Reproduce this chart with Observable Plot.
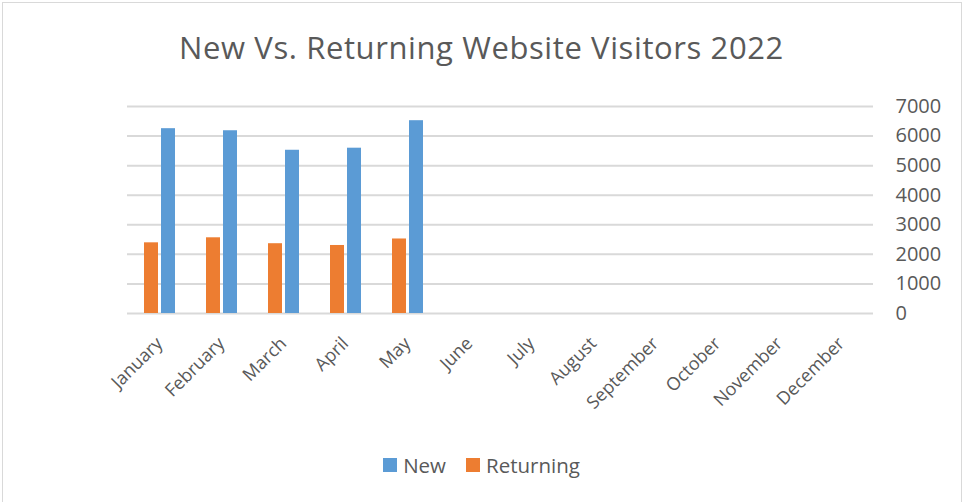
<!DOCTYPE html>
<html>
<head>
<meta charset="utf-8">
<script src="https://cdn.jsdelivr.net/npm/d3@7"></script>
<script src="https://cdn.jsdelivr.net/npm/@observablehq/plot@0.6"></script>
<style>
  html, body { margin: 0; padding: 0; background: #fff; }
  #wrap { position: relative; width: 963px; height: 502px; overflow: hidden; font-family: "Open Sans", sans-serif; color: #595959; }
  #border { position: absolute; left: 2px; top: 2px; width: 958px; height: 510px; border: 1px solid #d9d9d9; }
  #title { position: absolute; left: 0; right: 0; top: 27px; text-align: center; font-size: 31px; letter-spacing: 0.6px; line-height: 40px; }
  #legend { position: absolute; left: 0; right: 0; top: 450px; text-align: center; font-size: 20.5px; line-height: 28px; }
  #legend span.item { display: inline-flex; align-items: center; margin: 0 10px; }
  #legend span.sw { display: inline-block; width: 14px; height: 14px; margin-right: 6px; }
  #chart { position: absolute; left: 0; top: 0; }
</style>
</head>
<body>
<div id="wrap">
  <div id="border"></div>
  <div id="chart"></div>
  <div id="title">New Vs. Returning Website Visitors 2022</div>
  <div id="legend"></div>
</div>
<script>
const months = ["January","February","March","April","May","June","July","August","September","October","November","December"];
const dataMonths = ["January","February","March","April","May"];
const newVisitors = [6250, 6180, 5520, 5590, 6520];
const returningVisitors = [2390, 2560, 2360, 2300, 2520];
const yTicks = [0, 1000, 2000, 3000, 4000, 5000, 6000, 7000];
const seriesNames = ["New", "Returning"];
const seriesColors = ["#5B9BD5", "#ED7D31"];

const newData = dataMonths.map((m, i) => ({month: m, value: newVisitors[i]}));
const retData = dataMonths.map((m, i) => ({month: m, value: returningVisitors[i]}));

const textColor = "#595959";
const chart = Plot.plot({
  width: 963,
  height: 502,
  marginTop: 106,
  marginBottom: 189,
  marginLeft: 127,
  marginRight: 90,
  style: {fontFamily: "Open Sans, sans-serif", background: "transparent", overflow: "visible"},
  x: {type: "band", domain: months, padding: 0},
  y: {domain: [0, 7000]},
  marks: [
    Plot.ruleY(yTicks, {stroke: "#d9d9d9", strokeWidth: 2}),
    Plot.barY(retData, {x: "month", y: "value", fill: seriesColors[1], insetLeft: 16, insetRight: 32}),
    Plot.barY(newData, {x: "month", y: "value", fill: seriesColors[0], insetLeft: 33, insetRight: 15}),
    Plot.axisY({anchor: "right", ticks: yTicks, tickSize: 0, tickPadding: 22, textAnchor: "start", fontSize: 20, fill: textColor, label: null, tickFormat: d => String(d)}),
    Plot.axisX({anchor: "bottom", tickSize: 0, tickRotate: -45, textAnchor: "end", fontSize: 18, fill: textColor, label: null, tickPadding: 27, dx: 0})
  ]
});
document.getElementById("chart").appendChild(chart);

const legend = document.getElementById("legend");
seriesNames.forEach((name, i) => {
  const item = document.createElement("span");
  item.className = "item";
  const sw = document.createElement("span");
  sw.className = "sw";
  sw.style.background = seriesColors[i];
  item.appendChild(sw);
  item.appendChild(document.createTextNode(name));
  legend.appendChild(item);
});
</script>
</body>
</html>
